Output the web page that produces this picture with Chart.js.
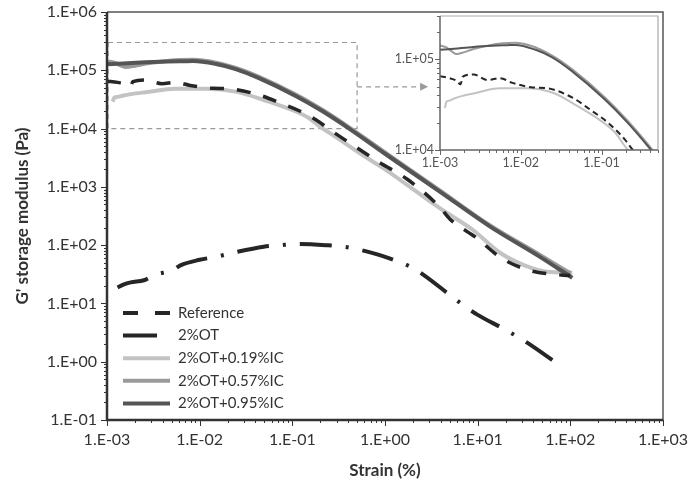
<!DOCTYPE html>
<html>
<head>
<meta charset="utf-8">
<script src="https://cdn.jsdelivr.net/npm/chart.js@4.4.1/dist/chart.umd.min.js"></script>
<style>
  body { margin: 0; background: #fff; }
  #wrap { position: relative; width: 689px; height: 481px; }
  #main { position: absolute; left: 0; top: 0; }
  #inset { position: absolute; left: 380px; top: 0; }
</style>
</head>
<body>
<div id="wrap">
  <canvas id="main" width="689" height="481"></canvas>
  <canvas id="inset" width="290" height="180"></canvas>
</div>
<script>
// strain (%) and G' (Pa)
const refStrain = [0.001, 0.0013, 0.0016, 0.0018, 0.0019, 0.0026, 0.0039, 0.0055, 0.0079, 0.014, 0.021, 0.043, 0.076, 0.12, 0.195, 0.23, 0.42, 0.88, 1.74, 3.9, 5.0, 9.8, 18, 36, 60, 100];
const refG = [6.5e4, 6.2e4, 5.8e4, 5.3e4, 6.4e4, 6.8e4, 5.9e4, 6.2e4, 5.5e4, 4.9e4, 4.8e4, 3.8e4, 2.7e4, 2.0e4, 1.3e4, 1.07e4, 5.6e3, 2.6e3, 1.35e3, 450, 282, 132, 60, 37, 32, 30];

const ot2Strain = [0.0013, 0.0015, 0.0018, 0.0025, 0.0033, 0.0051, 0.0062, 0.01, 0.015, 0.023, 0.049, 0.074, 0.12, 0.23, 0.39, 0.74, 1.23, 1.86, 2.6, 5.0, 6.9, 9.8, 19.5, 29, 40, 78];
const ot2G = [18.7, 21, 23, 25, 31, 37, 45, 56, 63, 74, 94, 100, 105, 100, 92, 73, 56, 43, 31, 14, 9.5, 6.5, 3.6, 2.5, 1.8, 0.85];

const ic019Strain = [0.00115, 0.0012, 0.0013, 0.0015, 0.0018, 0.0026, 0.0055, 0.0117, 0.0245, 0.052, 0.091, 0.148, 0.195, 0.26, 0.575, 1.0, 3.9, 8.9, 17.4, 31, 56, 105];
const ic019G = [2.9e4, 3.4e4, 3.5e4, 3.7e4, 3.9e4, 4.2e4, 4.8e4, 4.8e4, 4.3e4, 3.0e4, 2.2e4, 1.55e4, 1.1e4, 8.2e3, 3.5e3, 2.0e3, 430, 182, 74, 46, 35, 34];

const ic057Strain = [0.001, 0.0012, 0.0014, 0.0016, 0.002, 0.0026, 0.004, 0.006, 0.0085, 0.013, 0.0245, 0.043, 0.11, 0.21, 0.41, 1.0, 3.9, 13.5, 47, 100];
const ic057G = [1.42e5, 1.35e5, 1.22e5, 1.14e5, 1.2e5, 1.3e5, 1.42e5, 1.5e5, 1.52e5, 1.42e5, 1.1e5, 7.8e4, 3.8e4, 2.1e4, 1.05e4, 3.9e3, 870, 220, 68, 33];

const ic095Strain = [0.001, 0.0015, 0.0026, 0.0045, 0.0068, 0.0085, 0.015, 0.0245, 0.043, 0.11, 0.21, 0.41, 1.0, 3.9, 13.5, 47, 105];
const ic095G = [1.27e5, 1.31e5, 1.37e5, 1.41e5, 1.43e5, 1.44e5, 1.28e5, 1.05e5, 7.4e4, 3.6e4, 2.0e4, 1.0e4, 3.7e3, 830, 210, 63, 27.5];

const seriesNames = ['Reference', '2%OT', '2%OT+0.19%IC', '2%OT+0.57%IC', '2%OT+0.95%IC'];
const seriesColors = ['#262626', '#262626', '#c3c3c3', '#9a9a9a', '#555555'];

const FONT = 'Lato, "Open Sans", sans-serif';

function pts(xs, ys) {
  return xs.map((x, i) => ({ x: x, y: ys[i] }));
}

function sci(v) {
  const e = Math.round(Math.log10(v));
  return '1.E' + (e < 0 ? '-' : '+') + String(Math.abs(e)).padStart(2, '0');
}

function decadeTicks(scale) {
  const t = [];
  for (let e = Math.round(Math.log10(scale.min)); Math.pow(10, e) <= scale.max * 1.0001; e++) {
    t.push({ value: Math.pow(10, e) });
  }
  scale.ticks = t;
}

function makeDatasets(big) {
  const w = big ? 4 : 2;
  const list = [
    { data: pts(refStrain, refG), borderDash: big ? [14, 13] : [6, 4], borderWidth: big ? 3.5 : 2, order: 1 },
    { data: pts(ot2Strain, ot2G), borderDash: [32, 14, 3, 14], borderWidth: 4, order: 2 },
    { data: pts(ic019Strain, ic019G), borderWidth: w, order: 5 },
    { data: pts(ic057Strain, ic057G), borderWidth: w, order: 4 },
    { data: pts(ic095Strain, ic095G), borderWidth: w, order: 3 }
  ];
  return list.map((d, i) => Object.assign({
    label: seriesNames[i],
    borderColor: seriesColors[i],
    pointRadius: 0,
    fill: false,
    cubicInterpolationMode: 'monotone'
  }, d));
}

// frame, axis lines and log tick marks
function frameTicks(o) {
  return {
    id: 'frameTicks',
    afterDraw(chart) {
      const ctx = chart.ctx, a = chart.chartArea;
      const xs = chart.scales.x, ys = chart.scales.y;
      ctx.save();
      ctx.strokeStyle = o.frame;
      ctx.lineWidth = o.frameWidth;
      ctx.beginPath();
      ctx.moveTo(a.left, a.top); ctx.lineTo(a.right, a.top); ctx.lineTo(a.right, a.bottom);
      ctx.stroke();
      ctx.strokeStyle = o.axis;
      ctx.lineWidth = o.axisWidth;
      ctx.beginPath();
      ctx.moveTo(a.left, a.top); ctx.lineTo(a.left, a.bottom); ctx.lineTo(a.right, a.bottom);
      ctx.stroke();
      ctx.lineWidth = 1;
      ctx.beginPath();
      [[ys, 'y'], [xs, 'x']].forEach(([s, k]) => {
        for (let e = Math.floor(Math.log10(s.min)); e <= Math.ceil(Math.log10(s.max)); e++) {
          for (let m = 1; m <= 9; m++) {
            const v = m * Math.pow(10, e);
            if (v < s.min * 0.999 || v > s.max * 1.001) continue;
            const len = m === 1 ? o.major : o.minor;
            const p = Math.round(s.getPixelForValue(v)) + 0.5;
            if (k === 'y') { ctx.moveTo(a.left - len, p); ctx.lineTo(a.left, p); }
            else { ctx.moveTo(p, a.bottom); ctx.lineTo(p, a.bottom + len); }
          }
        }
      });
      ctx.stroke();
      ctx.restore();
    }
  };
}

// dashed zoom window and arrow towards the inset
const zoomBox = {
  id: 'zoomBox',
  beforeDatasetsDraw(chart) {
    const ctx = chart.ctx, xs = chart.scales.x, ys = chart.scales.y;
    const x0 = xs.getPixelForValue(1e-3), x1 = xs.getPixelForValue(0.5);
    const y0 = ys.getPixelForValue(3e5), y1 = ys.getPixelForValue(1e4);
    const ya = ys.getPixelForValue(5.2e4);
    ctx.save();
    ctx.strokeStyle = '#9a9a9a';
    ctx.lineWidth = 1.2;
    ctx.setLineDash([5, 4]);
    ctx.strokeRect(x0 + 1, y0, x1 - x0 - 1, y1 - y0);
    ctx.beginPath();
    ctx.moveTo(x1, ya); ctx.lineTo(x1 + 64, ya);
    ctx.stroke();
    ctx.setLineDash([]);
    ctx.fillStyle = '#9a9a9a';
    ctx.beginPath();
    ctx.moveTo(x1 + 63, ya - 4); ctx.lineTo(x1 + 71, ya); ctx.lineTo(x1 + 63, ya + 4);
    ctx.closePath();
    ctx.fill();
    ctx.restore();
  }
};

const legendBox = {
  id: 'legendBox',
  afterDraw(chart) {
    const ctx = chart.ctx;
    ctx.save();
    chart.data.datasets.forEach((d, i) => {
      const y = 313 + i * 22.6;
      ctx.strokeStyle = d.borderColor;
      ctx.lineWidth = 4;
      ctx.setLineDash(i === 0 ? [15, 17] : (i === 1 ? [34, 40] : []));
      ctx.beginPath();
      ctx.moveTo(123, y); ctx.lineTo(170, y);
      ctx.stroke();
      ctx.setLineDash([]);
      ctx.fillStyle = '#333';
      ctx.font = '15px ' + FONT;
      ctx.textBaseline = 'middle';
      ctx.fillText(d.label, 178, y);
    });
    ctx.restore();
  }
};

function axisOpts(min, max, size, color, pad, fit, title) {
  return {
    type: 'logarithmic',
    min: min,
    max: max,
    afterBuildTicks: decadeTicks,
    afterFit: fit,
    grid: { display: false, drawTicks: false },
    border: { display: false },
    ticks: {
      autoSkip: false,
      maxRotation: 0,
      padding: pad,
      color: color,
      font: { family: FONT, size: size },
      callback: (v) => sci(v)
    },
    title: title
  };
}

function fitY(w) {
  return (s) => { s.width = w; s.paddingTop = 0; s.paddingBottom = 0; };
}
function fitX(h) {
  return (s) => { s.height = h; s.paddingLeft = 0; s.paddingRight = 0; };
}

new Chart(document.getElementById('main'), {
  type: 'line',
  data: { datasets: makeDatasets(true) },
  options: {
    responsive: false,
    animation: false,
    layout: { padding: { left: 0, top: 12, right: 26, bottom: 0 } },
    plugins: { legend: { display: false }, tooltip: { enabled: false } },
    scales: {
      x: axisOpts(1e-3, 1e3, 16, '#333', 10, fitX(61), {
        display: true, text: 'Strain (%)', color: '#333',
        font: { family: FONT, size: 17, weight: 'bold' }, padding: { top: 0, bottom: 0 }
      }),
      y: axisOpts(0.1, 1e6, 16, '#333', 10, fitY(107), {
        display: true, text: "G' storage modulus (Pa)", color: '#333',
        font: { family: FONT, size: 17, weight: 'bold' }, padding: { top: 12, bottom: 0 }
      })
    }
  },
  plugins: [zoomBox, legendBox, frameTicks({ frame: '#555', frameWidth: 1.5, axis: '#333', axisWidth: 2.5, major: 6, minor: 3 })]
});

new Chart(document.getElementById('inset'), {
  type: 'line',
  data: { datasets: makeDatasets(false) },
  options: {
    responsive: false,
    animation: false,
    layout: { padding: { left: 0, top: 16, right: 12, bottom: 0 } },
    plugins: { legend: { display: false }, tooltip: { enabled: false } },
    scales: {
      x: axisOpts(1e-3, 0.5, 12.5, '#555', 5, fitX(30), { display: false }),
      y: axisOpts(1e4, 3e5, 12.5, '#555', 6, fitY(60), { display: false })
    }
  },
  plugins: [frameTicks({ frame: '#aaa', frameWidth: 1.2, axis: '#666', axisWidth: 1.5, major: 5, minor: 3 })]
});
</script>
</body>
</html>
